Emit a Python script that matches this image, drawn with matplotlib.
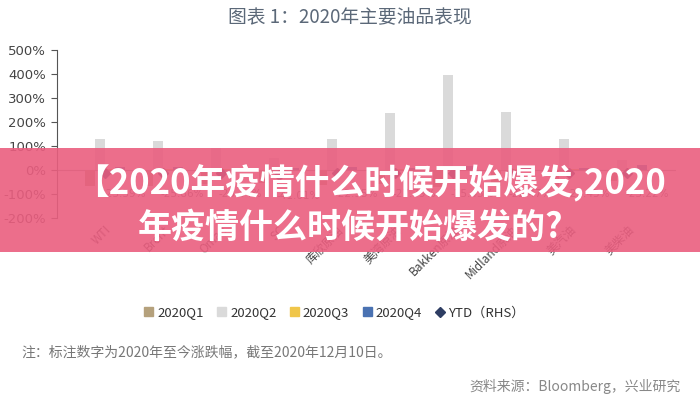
import numpy as np
import matplotlib
matplotlib.use("Agg")
import matplotlib.pyplot as plt
from matplotlib.patches import Rectangle
from matplotlib.lines import Line2D

plt.rcParams['font.family'] = ['Noto Sans CJK SC', 'DejaVu Sans']

# data (partly hidden under the banner -> estimates)
products = ['WTI', 'Brent', 'Oman', 'SC', '库欣原油', '美湾原油',
            'Bakken原油', 'Midland原油', '美汽油', '美柴油']
q1 = [-66, -68, -60, -55, -62, -60, -70, -65, -66, -45]
q2 = [128, 121, 90, 50, 129, 237, 396, 242, 129, 42]
q3 = [5, 4, 3, 6, 5, 4, 6, 5, 4, 3]
q4 = [12, 14, 10, 8, 12, 10, 15, 12, 8, 20]
ytd = [-23.39, -25.86, -23.34, -41.01, -22.95, -27.79, -25.43, -22.47, -22.45, -25.22]
ytd_text = ['-23.39%', '-25.86%', '-23.34%', '-41.01%', '-22.95%', '-27.79%',
            '-25.43%', '-22.47%', '-22.45%', '-25.22%']
series = ['2020Q1', '2020Q2', '2020Q3', '2020Q4']
colors = ['#b5a17c', '#dadada', '#f0c64a', '#4a72b2']
yticks = [-200, -100, 0, 100, 200, 300, 400, 500]

fig = plt.figure(figsize=(7, 4), dpi=100)
ax = fig.add_axes([0.081, 0.455, 0.884, 0.42])

x = np.arange(len(products))
w = 0.17
for i, vals in enumerate([q1, q2, q3, q4]):
    ax.bar(x + (i - 1.5) * w, vals, width=w, color=colors[i], zorder=2)
ax.axhline(0, color='#9a9a9a', lw=0.8, zorder=1)

ax.set_xlim(-0.83, len(products) - 0.17)
ax.set_ylim(-200, 500)
ax.set_yticks(yticks)
ax.set_yticklabels([f'{v}%' for v in yticks], fontsize=9.5, color='#444444',
                   family=['DejaVu Sans'])
ax.set_xticks(x)
ax.set_xticklabels(products, rotation=45, ha='right', rotation_mode='anchor',
                   fontsize=8.5, color='#444444')
ax.tick_params(axis='x', length=0, pad=4)
ax.tick_params(axis='y', length=4, color='#555555', direction='out')
for s in ['top', 'right', 'bottom']:
    ax.spines[s].set_visible(False)
ax.spines['left'].set_color('#555555')

# YTD on a hidden right-hand axis
ax2 = ax.twinx()
ax2.set_ylim(-400, 1000)
ax2.plot(x, ytd, linestyle='none', marker='D', markersize=5,
         color='#2e3d63', zorder=3)
for xi, yv, t in zip(x, ytd, ytd_text):
    ax2.annotate(t, (xi, yv), xytext=(14, -15), textcoords='offset points',
                 ha='center', va='center', fontsize=7.5, color='#666666',
                 family=['DejaVu Sans'])
ax2.axis('off')

fig.text(0.5, 0.957, '图表 1：2020年主要油品表现', ha='center', va='center',
         fontsize=13.5, color='#5b6878')

handles = [Rectangle((0, 0), 1, 1, color=c) for c in colors]
handles.append(Line2D([], [], linestyle='none', marker='D', markersize=5,
                      color='#2e3d63'))
fig.legend(handles, series + ['YTD（RHS）'], loc='center',
           bbox_to_anchor=(0.478, 0.218), ncol=5, frameon=False,
           fontsize=9.5, handlelength=0.7, handleheight=0.7,
           handletextpad=0.3, columnspacing=1.0,
           labelcolor='#333333')

fig.text(0.031, 0.12, '注：标注数字为2020年至今涨跌幅，截至2020年12月10日。',
         ha='left', va='center', fontsize=10, color='#777777')
fig.text(0.972, 0.035, '资料来源：Bloomberg，兴业研究', ha='right',
         va='center', fontsize=10, color='#888888')

# banner overlay
fig.patches.append(Rectangle((0, 0.37), 1, 0.26, transform=fig.transFigure,
                             facecolor='#ea5e7f', alpha=0.9, zorder=10))
fig.text(0.529, 0.542, '【2020年疫情什么时候开始爆发,2020', ha='center',
         va='center', fontsize=25, fontweight='bold', color='white', zorder=11)
fig.text(0.5, 0.432, '年疫情什么时候开始爆发的?', ha='center',
         va='center', fontsize=24.5, fontweight='bold', color='white', zorder=11)

fig.savefig('out.png', dpi=100)
